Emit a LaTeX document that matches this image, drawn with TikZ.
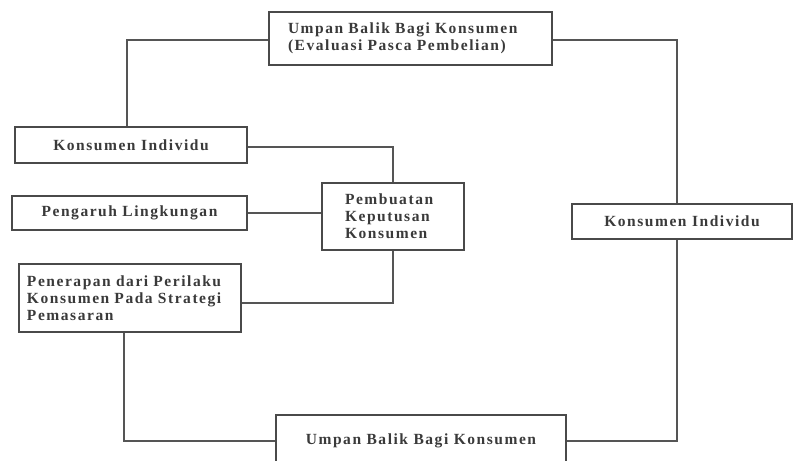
\documentclass[tikz,border=0pt]{standalone}
\usepackage{fontspec}
\setmainfont{Liberation Serif}
\usepackage{tikz}
\usetikzlibrary{positioning,calc}
\usepackage{xcolor}
\definecolor{kbLine}{HTML}{555555}
\definecolor{kbBorder}{HTML}{4A4A4A}
\definecolor{kbText}{HTML}{3A3A3A}

\begin{document}
\begin{tikzpicture}[
    x=1pt, y=-1pt,
    box/.style={draw=kbBorder, line width=1.3pt, fill=white, inner sep=0pt, align=center, text=kbText,
        font={\fontsize{15.5}{17}\selectfont\bfseries\addfontfeatures{LetterSpace=10}}},
    link/.style={draw=kbLine, line width=1.2pt}
]
    \path[use as bounding box, clip] (0,0) rectangle (794,460);
    \fill[white] (0,0) rectangle (794,460);

    % Feedback (top)
    \node[box, minimum width=283pt, minimum height=53pt, text width=245pt, align=left] (fbtop) at (410.5,38.5)
        {Umpan Balik Bagi Konsumen\\(Evaluasi Pasca Pembelian)};

    % Left column
    \node[box, minimum width=232pt, minimum height=36pt] (indivL) at (131,145) {Konsumen Individu};
    \node[box, minimum width=235pt, minimum height=34pt] (lingk) at (129.5,213) {Pengaruh Lingkungan};
    \node[box, minimum width=222pt, minimum height=68pt, text width=206pt, align=left] (terap) at (130,298)
        {Penerapan dari Perilaku\\Konsumen Pada Strategi\\Pemasaran};

    % Decision
    \node[box, minimum width=142pt, minimum height=67pt, text width=96pt, align=left] (keput) at (393,216.5)
        {Pembuatan\\Keputusan\\Konsumen};

    % Right
    \node[box, minimum width=220pt, minimum height=35pt] (indivR) at (682,221.5) {Konsumen Individu};

    % Feedback (bottom)
    \node[box, minimum width=290pt, minimum height=52pt] (fbbot) at (421,441) {Umpan Balik Bagi Konsumen};

    % Connections
    \draw[link] ([yshift=-1.5pt]fbtop.west) -| ([xshift=-4pt]indivL.north);
    \draw[link] ([yshift=-2pt]indivL.east) -| (keput.north);
    \draw[link] (lingk.east) -- (lingk.east -| keput.west);
    \draw[link] ([yshift=-5pt]terap.east) -| (keput.south);
    \draw[link] ([xshift=-6pt]terap.south) |- (fbbot.west);
    \draw[link] (fbbot.east) -| ([xshift=-5pt]indivR.south);
    \draw[link] ([xshift=-5pt]indivR.north) |- ([yshift=-1.5pt]fbtop.east);

\end{tikzpicture}
\end{document}
